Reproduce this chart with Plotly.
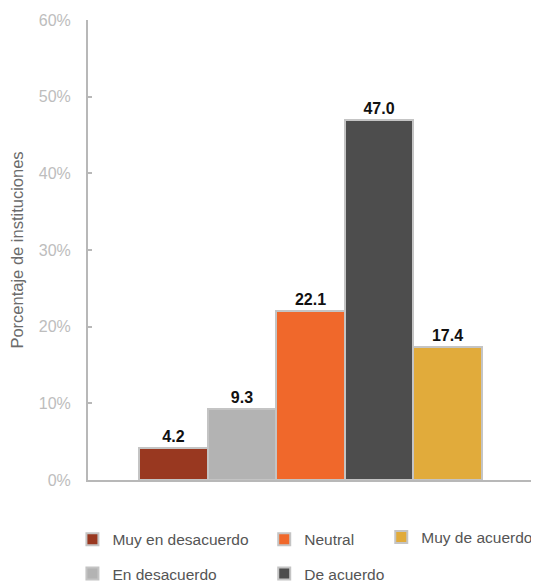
import plotly.graph_objects as go

categories = ["Muy en desacuerdo", "En desacuerdo", "Neutral", "De acuerdo", "Muy de acuerdo"]
values = [4.2, 9.3, 22.1, 47.0, 17.4]
colors = ["#993820", "#b3b3b3", "#f0682b", "#4d4d4d", "#e1ab3b"]
legend_ids = ["legend", "legend", "legend2", "legend2", "legend3"]
y_ticks = [0, 10, 20, 30, 40, 50, 60]
y_ticktext = [f"{t}%" for t in y_ticks]

FONT = "Liberation Sans"

fig = go.Figure()
for i, (cat, val, col, lg) in enumerate(zip(categories, values, colors, legend_ids)):
    fig.add_trace(go.Bar(
        x=[i], y=[val], name=cat,
        marker=dict(color=col, line=dict(color="#c4c4c4", width=2)),
        width=1.0,
        text=[f"{val:.1f}"], textposition="outside",
        textfont=dict(family=FONT, size=16, color="#111111", weight="bold"),
        cliponaxis=False,
        legend=lg, legendgroup=cat,
    ))

legend_common = dict(
    orientation="v", traceorder="grouped", tracegroupgap=11,
    font=dict(family=FONT, size=15.5, color="#555555"),
    itemwidth=30, bgcolor="rgba(0,0,0,0)", yanchor="top", xanchor="left",
    borderwidth=0,
)

# page body has an 8px margin, so the figure is sized 8px smaller
fig.update_layout(
    width=531, height=574,
    margin=dict(l=80, r=6, t=12, b=102, autoexpand=False),
    plot_bgcolor="white", paper_bgcolor="white",
    bargap=0,
    showlegend=True,
    legend=dict(x=-0.035, y=-0.093, **legend_common),
    legend2=dict(x=0.396, y=-0.093, **legend_common),
    legend3=dict(x=0.659, y=-0.088, **legend_common),
    xaxis=dict(
        range=[-1.25, 5.25], showticklabels=False, ticks="",
        showgrid=False, zeroline=False, automargin=False,
        showline=True, linecolor="#b8b8b8", linewidth=2,
    ),
    yaxis=dict(
        range=[0, 60], tickvals=y_ticks, ticktext=y_ticktext,
        showgrid=False, zeroline=False, automargin=False,
        showline=True, linecolor="#b8b8b8", linewidth=2,
        ticks="inside", ticklen=4, tickcolor="#b8b8b8", tickwidth=2,
        ticklabelstandoff=12,
        tickfont=dict(family=FONT, size=16, color="#bdbdbd"),
        title=dict(text="Porcentaje de instituciones", standoff=12,
                   font=dict(family=FONT, size=16.5, color="#6b6b6b")),
    ),
)

fig.write_html("out.html")
